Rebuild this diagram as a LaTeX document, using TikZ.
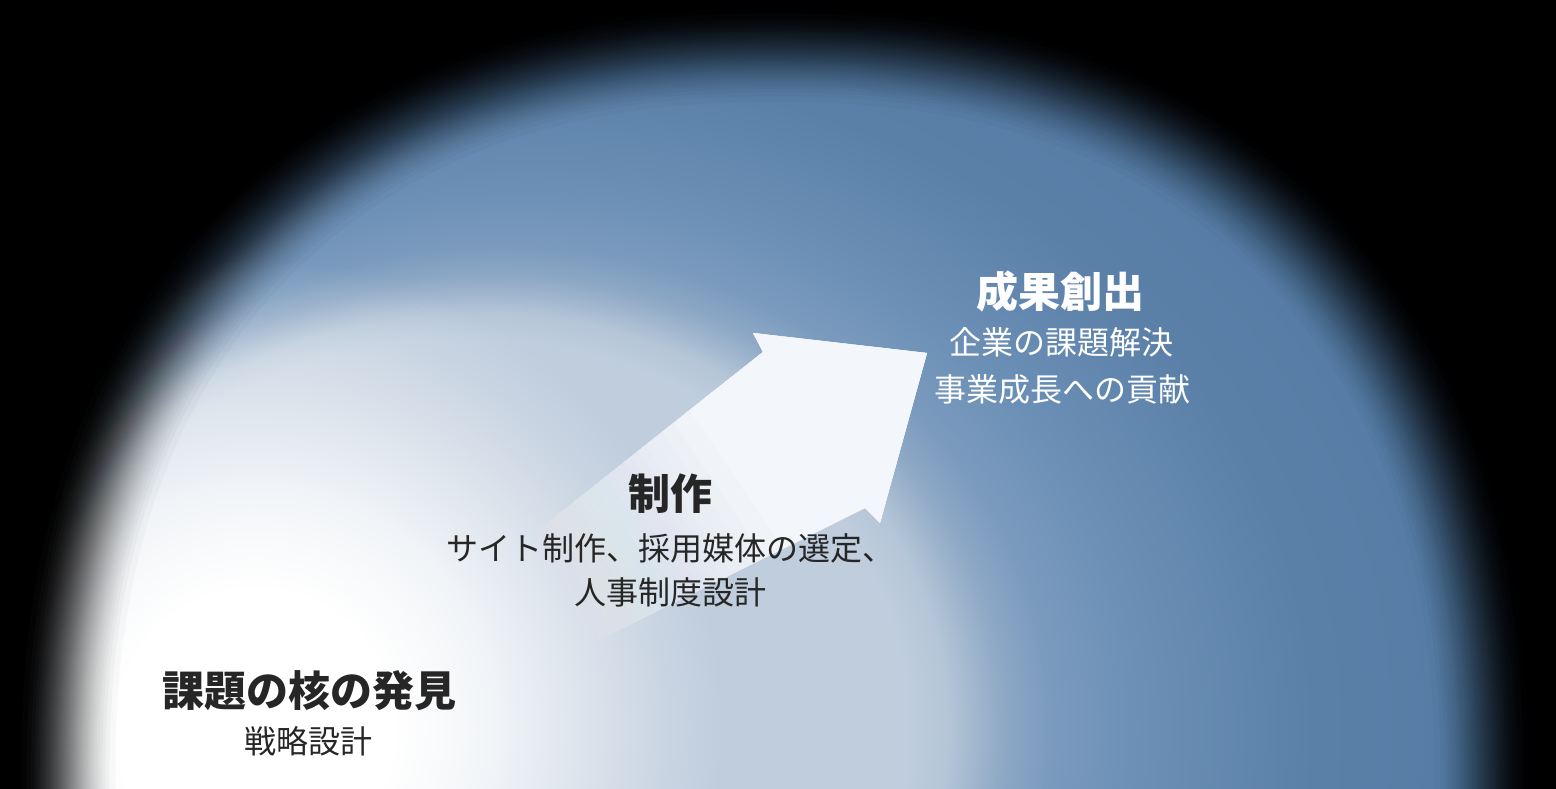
\documentclass[tikz,border=0pt]{standalone}
\usepackage{fontspec}
\setmainfont{Noto Sans CJK JP}
\definecolor{zonein}{HTML}{BFCDDD}
\definecolor{arrowcol}{HTML}{F3F6FA}
\definecolor{darktext}{HTML}{262626}

% eccentric radial shading: light zone with soft edge, blue outside
% (the path's bounding box corresponds to a radius of 25bp)
\pgfdeclareradialshading{zonesh}{\pgfpoint{-18.36bp}{0bp}}{%
  color(0bp)=(zonein); color(6.5bp)=(zonein);
  rgb(6.915bp)=(0.710,0.776,0.847);
  rgb(7.165bp)=(0.647,0.729,0.816);
  rgb(7.5bp)=(0.561,0.663,0.776);
  rgb(8bp)=(0.482,0.608,0.745);
  rgb(9bp)=(0.420,0.561,0.710);
  rgb(10.835bp)=(0.357,0.502,0.659);
  rgb(14.165bp)=(0.318,0.467,0.635);
  rgb(19.165bp)=(0.294,0.447,0.620);
  rgb(25bp)=(0.275,0.431,0.612);
  rgb(50bp)=(0.275,0.431,0.612)}
% white core as a soft white disc (fading: white = opaque)
\pgfdeclareradialshading{corefsh}{\pgfpointorigin}{%
  color(0bp)=(white); color(7.5bp)=(white);
  color(12.5bp)=(white!80!black);
  color(17.5bp)=(white!45!black);
  color(22bp)=(white!15!black);
  color(25bp)=(black); color(50bp)=(black)}
\pgfdeclarefading{corefade}{\pgfuseshading{corefsh}}

\tikzset{
  ttl/.style={font=\bfseries\fontsize{42}{50}\selectfont, inner sep=0pt, text height=34.9pt, text depth=2.9pt, anchor=center},
  sub/.style={font=\fontsize{32}{38}\selectfont, inner sep=0pt, text height=26.6pt, text depth=2.2pt, anchor=center},
  darkt/.style={text=darktext},
  whitet/.style={text=white}
}

\begin{document}
\begin{tikzpicture}[x=1pt,y=1pt]
\useasboundingbox (0,0) rectangle (1556,788);
\clip (0,0) rectangle (1556,788);
% background: light zone and blue
\shade[shading=zonesh] (-154,-1440) rectangle (3266,1560);
% white core
\fill[white, path fading=corefade] (255,60) circle[radius=470];
% arrow, fading towards its tail
\begin{scope}
  \clip (420,165) -- (763,436) -- (753,455) -- (927,435) -- (880,265) -- (865,280) -- (560,128) -- cycle;
  \begin{scope}[rotate=34]
  \foreach \k in {1,...,30}{
    \pgfmathsetmacro\s{(\k-0.5)/30}
    \pgfmathsetmacro\t{acos(1-2*\s)/180}
    \pgfmathsetmacro\p{480+\t*330}
    \pgfmathsetmacro\q{1/(30-\k+1)}
    \fill[arrowcol, opacity=\q] (\p,-1500) rectangle (1600,1500);
  }
  \end{scope}
\end{scope}
% vignette: soft superellipse edge
\foreach \k in {1,...,40}{
  \pgfmathsetmacro\s{(\k-0.5)/40}
  \pgfmathsetmacro\t{acos(1-2*\s)/180}
  \pgfmathsetmacro\A{652+\t*110}
  \pgfmathsetmacro\B{674+\t*110}
  \pgfmathsetmacro\q{1/(40-\k+1)}
  \fill[black, opacity=\q, even odd rule] (-50,-50) rectangle (1606,838)
    plot[domain=0.75:178.75, samples=90] ({775+\A*cos(\x)*pow(abs(cos(\x)),-0.1304)}, {4+\B*pow(abs(sin(\x)),0.8696)})
    -- (775-\A,-60) -- (775+\A,-60) -- cycle;
}
% texts
\node[ttl, whitet] (t3) at (1060,496) {成果創出};
\node[sub, whitet] (s3a) at (1061,446) {企業の課題解決};
\node[sub, whitet] (s3b) at (1062,399) {事業成長への貢献};
\node[ttl, darkt] (t2) at (670,294) {制作};
\node[sub, darkt] (s2a) at (670,240) {サイト制作、採用媒体の選定、};
\node[sub, darkt] (s2b) at (670,196) {人事制度設計};
\node[ttl, darkt] (t1) at (309,98) {課題の核の発見};
\node[sub, darkt] (s1) at (308,47) {戦略設計};
\end{tikzpicture}
\end{document}
